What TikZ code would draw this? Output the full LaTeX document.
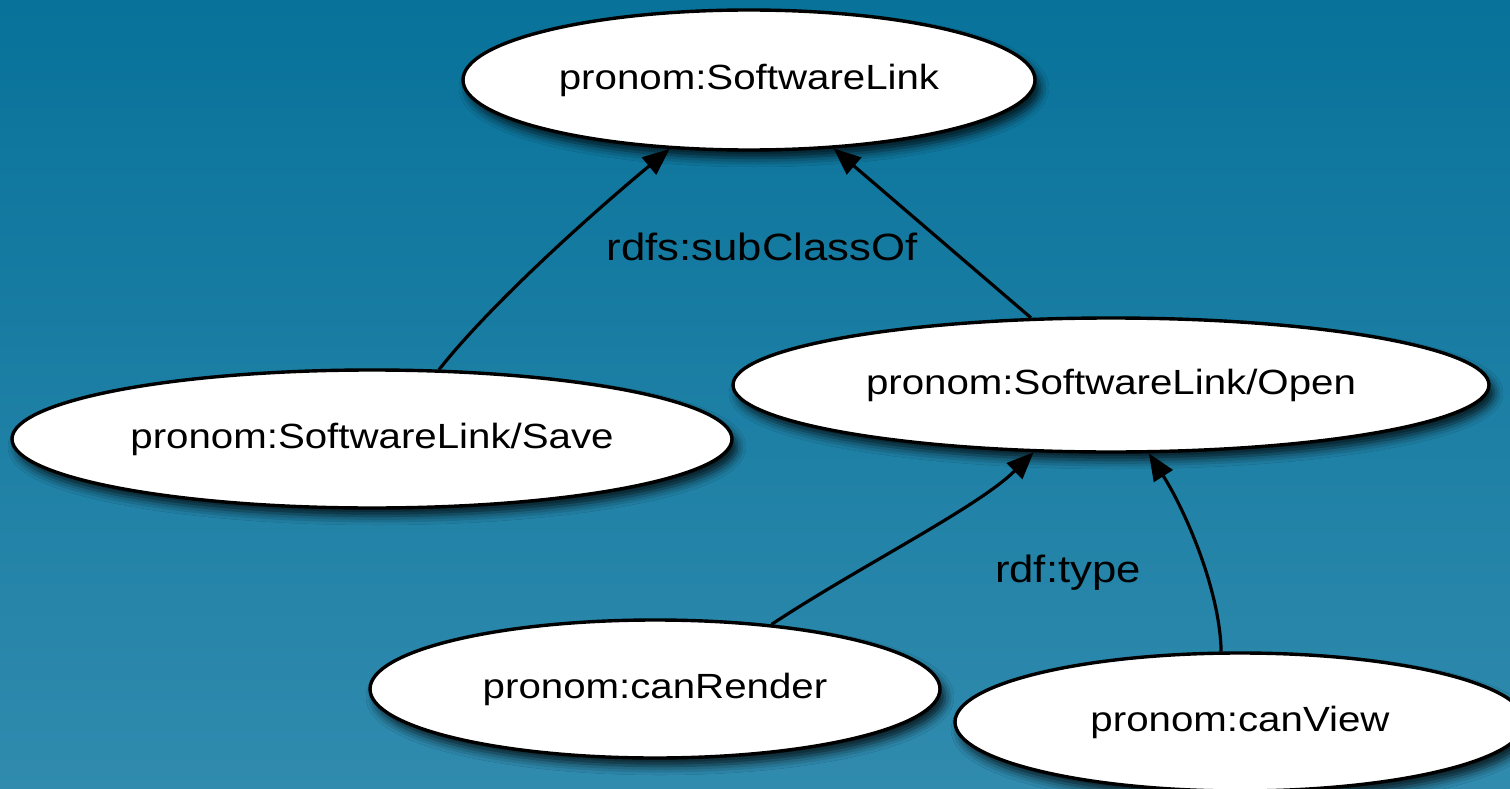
\documentclass[tikz,border=0pt]{standalone}
\usepackage{fontspec}
\setmainfont{Liberation Sans}
\usetikzlibrary{shapes.geometric,arrows.meta,shadows.blur}
\definecolor{bgtop}{RGB}{8,114,154}
\definecolor{bgbot}{RGB}{48,139,174}
\newcommand{\wtxt}[1]{\scalebox{1.15}[1]{#1}}
\tikzset{
  cls/.style={ellipse, draw=black, line width=3.4pt, fill=white, inner sep=0pt,
    font=\fontsize{35}{40}\selectfont,
    blur shadow={shadow xshift=5pt, shadow yshift=-8pt, shadow blur radius=9pt, shadow opacity=80}},
  rel/.style={draw=black, line width=3.2pt, -{Triangle[length=27pt,width=22pt]}},
  lbl/.style={font=\fontsize{38}{44}\selectfont, inner sep=0pt}
}
\begin{document}
\begin{tikzpicture}[x=1pt,y=-1pt]
\useasboundingbox (0,0) rectangle (1510,789);
\clip (0,0) rectangle (1510,789);
\shade[top color=bgtop, bottom color=bgbot] (0,0) rectangle (1510,789);

\node[cls, minimum width=572pt, minimum height=140pt] (top) at (749,80) {\wtxt{pronom:SoftwareLink}};
\node[cls, minimum width=720pt, minimum height=138pt] (save) at (372,439) {\wtxt{pronom:SoftwareLink/Save}};
\node[cls, minimum width=756pt, minimum height=134pt] (open) at (1111,385) {\wtxt{pronom:SoftwareLink/Open}};
\node[cls, minimum width=570pt, minimum height=138pt] (render) at (655,689) {\wtxt{pronom:canRender}};
\node[cls, minimum width=570pt, minimum height=138pt] (view) at (1240,722) {\wtxt{pronom:canView}};

\draw[rel] (save.46) .. controls (490,305) and (590,215) .. (top.221);
\draw[rel] (open.140) -- (top.321);
\draw[rel] (render.29) .. controls (860,566) and (977,508) .. (open.221);
\draw[rel] (view.105) .. controls (1220,590) and (1185,510) .. (open.299);

\node[lbl] (l1) at (762,247) {\wtxt{rdfs:subClassOf}};
\node[lbl] (l2) at (1068,573) {\wtxt{rdf:type}};
\end{tikzpicture}
\end{document}
